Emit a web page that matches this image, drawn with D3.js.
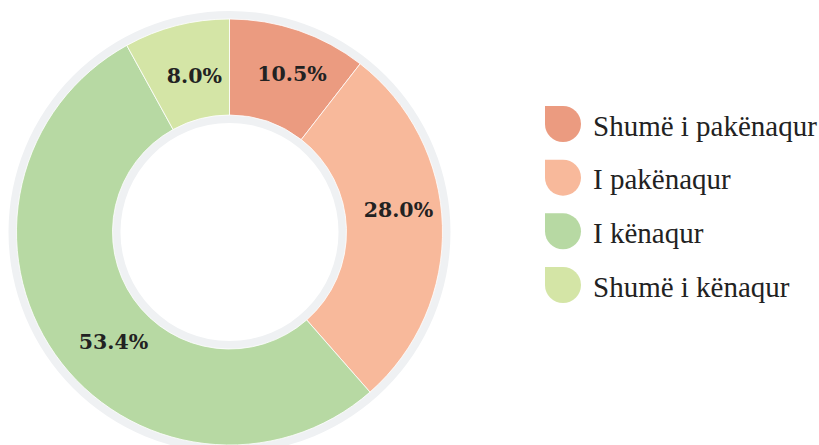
<!DOCTYPE html>
<html>
<head>
<meta charset="utf-8">
<script src="https://cdn.jsdelivr.net/npm/d3@7"></script>
<style>
  html, body { margin: 0; padding: 0; background: #ffffff; }
  svg { display: block; }
</style>
</head>
<body>
<svg id="chart" width="819" height="445"></svg>
<script>
// ---- data ----
const categories = ["Shumë i pakënaqur", "I pakënaqur", "I kënaqur", "Shumë i kënaqur"];
const values = [10.5, 28.0, 53.4, 8.0];
const valueLabels = ["10.5%", "28.0%", "53.4%", "8.0%"];
const colors = ["#eb9b80", "#f8b99b", "#b7d9a3", "#d4e5a6"];

// ---- layout ----
const W = 819, H = 445;
const cx = 229.5, cy = 232;
const rInner = 117, rOuter = 213;
const ringPad = 8;
// label nudges relative to arc centroid (layout only)
const labelNudge = [[9, -1.5], [4, -17.5], [19, 15], [6, 4]];

const svg = d3.select("#chart");
const g = svg.append("g").attr("transform", `translate(${cx},${cy})`);

// grey backing ring
g.append("path")
  .attr("d", d3.arc().innerRadius(rInner - ringPad).outerRadius(rOuter + ringPad)
    .startAngle(0).endAngle(2 * Math.PI)())
  .attr("fill", "#eff1f3");

const pie = d3.pie().sort(null).value(d => d);
const arcs = pie(values);
const arc = d3.arc().innerRadius(rInner).outerRadius(rOuter);
const labelArc = d3.arc().innerRadius(165).outerRadius(165);

g.selectAll("path.slice")
  .data(arcs)
  .join("path")
  .attr("class", "slice")
  .attr("d", arc)
  .attr("fill", (d, i) => colors[i])
  .attr("stroke", "#ffffff")
  .attr("stroke-width", 0.8);

g.selectAll("text.val")
  .data(arcs)
  .join("text")
  .attr("class", "val")
  .attr("x", (d, i) => labelArc.centroid(d)[0] + labelNudge[i][0])
  .attr("y", (d, i) => labelArc.centroid(d)[1] + labelNudge[i][1])
  .attr("text-anchor", "middle")
  .attr("dominant-baseline", "central")
  .attr("font-family", "'DejaVu Serif', serif")
  .attr("font-weight", "bold")
  .attr("font-size", 20.5)
  .attr("fill", "#222222")
  .text((d, i) => valueLabels[i]);

// ---- legend ----
const legendY = d3.scalePoint().domain(categories).range([124, 285]);
const iconSize = 36, rr = 18;
function iconPath(s, r) {
  // square top-left corner, rounded others
  return `M0,0 H${s - r} A${r},${r} 0 0 1 ${s},${r} V${s - r} A${r},${r} 0 0 1 ${s - r},${s}` +
         ` H${r} A${r},${r} 0 0 1 0,${s - r} Z`;
}
const leg = svg.append("g");
const items = leg.selectAll("g.item")
  .data(categories)
  .join("g")
  .attr("class", "item")
  .attr("transform", d => `translate(545,${legendY(d)})`);

items.append("path")
  .attr("d", iconPath(iconSize, rr))
  .attr("transform", `translate(0,${-iconSize / 2})`)
  .attr("fill", (d, i) => colors[i]);

items.append("text")
  .attr("x", 48)
  .attr("y", 11.5)
  .attr("font-family", "'Liberation Serif', serif")
  .attr("font-size", 29)
  .attr("fill", "#222222")
  .text(d => d);
</script>
</body>
</html>
